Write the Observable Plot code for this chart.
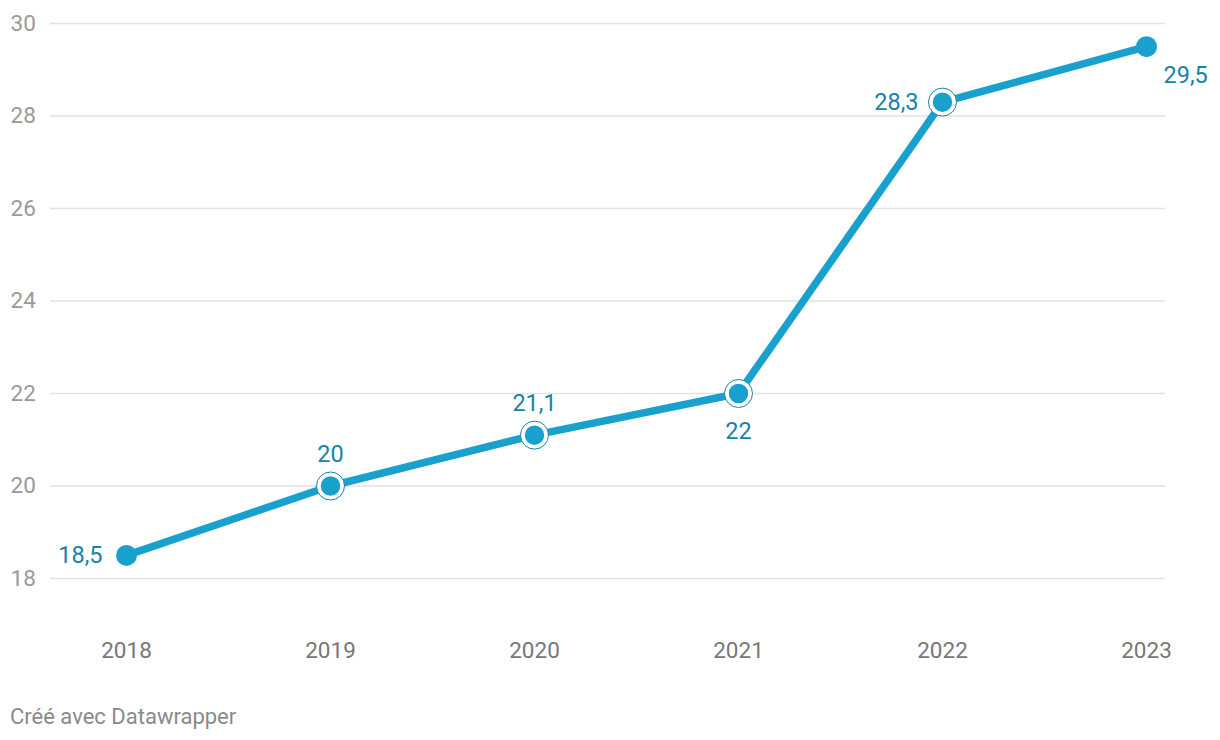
<!DOCTYPE html>
<html>
<head>
<meta charset="utf-8">
<script src="https://cdn.jsdelivr.net/npm/d3@7"></script>
<script src="https://cdn.jsdelivr.net/npm/@observablehq/plot@0.6"></script>
<style>
  body { margin: 0; background: #fff; font-family: Roboto, "Noto Sans", sans-serif; }
  #chart svg { display: block; }
  .caption { position: absolute; left: 10px; top: 703px; font-size: 22px; color: #8a8a8a; font-family: Roboto, sans-serif; line-height: 28px; }
</style>
</head>
<body>
<div id="chart"></div>
<div class="caption">Créé avec Datawrapper</div>
<script>
const years = [2018, 2019, 2020, 2021, 2022, 2023];
const values = [18.5, 20, 21.1, 22, 28.3, 29.5];
const labels = ["18,5", "20", "21,1", "22", "28,3", "29,5"];
const labelPos = ["left", "top", "top", "bottom", "left", "bottomright"];
const halo = [false, true, true, true, true, false];
const yTicks = [18, 20, 22, 24, 26, 28, 30];

const data = years.map((y, i) => ({year: y, value: values[i], label: labels[i], pos: labelPos[i], halo: halo[i]}));
const blue = "#18a1cd";
const labelBlue = "#1782ab";

const chart = Plot.plot({
  width: 1220,
  height: 690,
  marginLeft: 50,
  marginRight: 55,
  marginTop: 0,
  marginBottom: 112,
  style: {fontFamily: "Roboto, sans-serif", background: "#fff"},
  x: {domain: [2018, 2023], range: [126, 1146], axis: null},
  y: {domain: [18, 30], range: [578, 23], axis: null},
  marks: [
    Plot.ruleY(yTicks, {stroke: "#e2e2e2", strokeWidth: 1.3}),
    Plot.text(yTicks, {y: d => d, text: d => String(d), frameAnchor: "left", dx: -40, textAnchor: "start", fontSize: 22.5, fill: "#9a9a9a"}),
    Plot.text(years, {x: d => d, text: d => String(d), frameAnchor: "bottom", dy: 79, fontSize: 22.5, fill: "#777777"}),
    Plot.line(data, {x: "year", y: "value", stroke: blue, strokeWidth: 7.5, strokeLinejoin: "round", strokeLinecap: "round"}),
    Plot.dot(data.filter(d => d.halo), {x: "year", y: "value", r: 14, fill: "white", stroke: labelBlue, strokeWidth: 1}),
    Plot.dot(data, {x: "year", y: "value", r: 10.5, fill: blue, stroke: d => d.halo ? "white" : "none", strokeWidth: 1.5}),
    Plot.text(data.filter(d => d.pos === "left"), {x: "year", y: "value", text: "label", textAnchor: "end", dx: -24, fontSize: 23.5, fill: labelBlue}),
    Plot.text(data.filter(d => d.pos === "top"), {x: "year", y: "value", text: "label", dy: -32, fontSize: 23.5, fill: labelBlue}),
    Plot.text(data.filter(d => d.pos === "bottom"), {x: "year", y: "value", text: "label", dy: 38, fontSize: 23.5, fill: labelBlue}),
    Plot.text(data.filter(d => d.pos === "bottomright"), {x: "year", y: "value", text: "label", textAnchor: "start", dx: 17, dy: 29, fontSize: 23.5, fill: labelBlue})
  ]
});
document.getElementById("chart").appendChild(chart);
</script>
</body>
</html>
